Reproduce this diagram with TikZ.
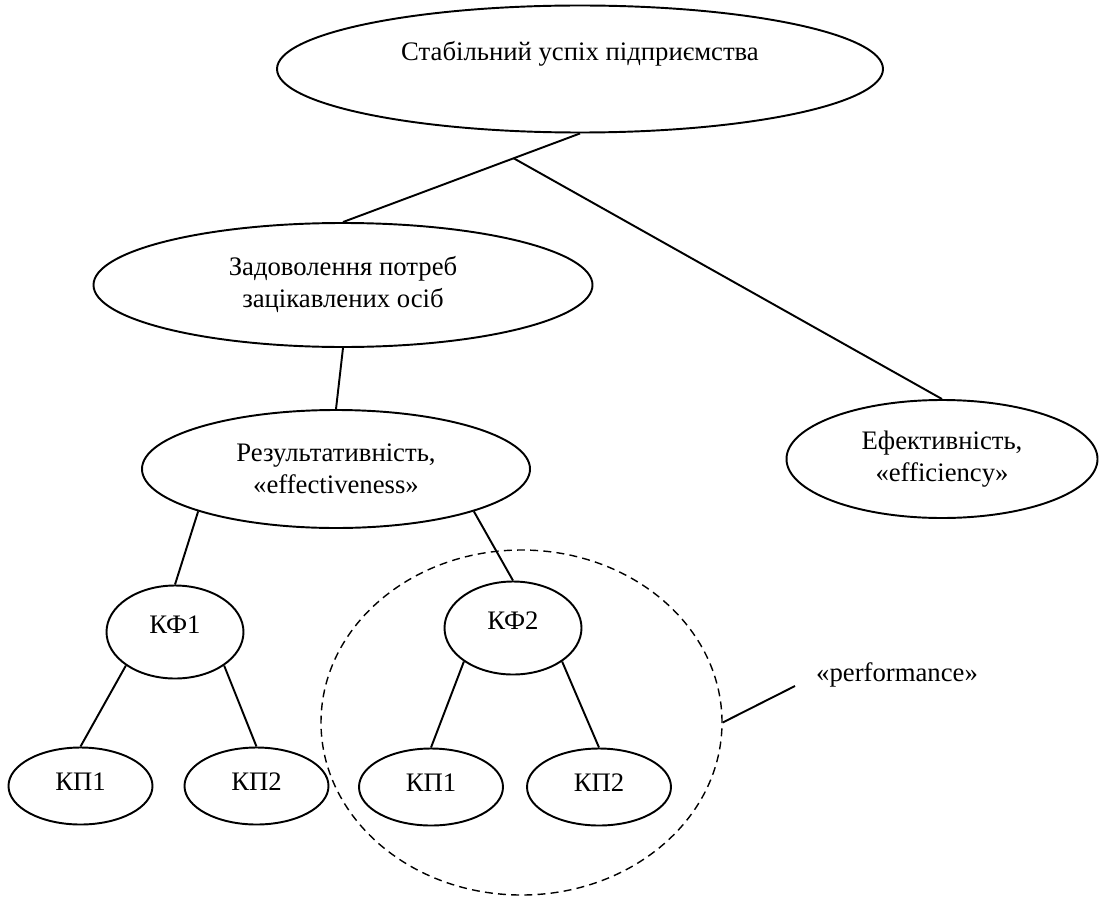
\documentclass[tikz,border=0pt]{standalone}
\usepackage{fontspec}
\setmainfont{Liberation Serif}
\usetikzlibrary{shapes.geometric}

\begin{document}
\begin{tikzpicture}[
                        line width=1.1pt,
                        every node/.style={font=\fontsize{15.2}{18.2}\selectfont},
                        bub/.style={ellipse, draw, align=center, inner sep=0pt},
                        kfbub/.style={bub, minimum width=2.74cm, minimum height=1.86cm, text depth=0.3cm},
                        kpbub/.style={bub, minimum width=2.88cm, minimum height=1.54cm, text depth=0.16cm}
                    ]
                    \useasboundingbox (0,0) rectangle (21.98,-17.96);
                    % Blocks
                    \node [bub, minimum width=12.12cm, minimum height=2.54cm, text height=0.38cm, text depth=0.70cm] (top) at (11.6,-1.38) {Стабільний успіх підприємства};
                    \node [bub, minimum width=9.98cm, minimum height=2.48cm] (need) at (6.86,-5.7) {Задоволення потреб\\зацікавлених осіб};
                    \node [bub, minimum width=7.76cm, minimum height=2.36cm] (res) at (6.72,-9.38) {Результативність,\\«effectiveness»};
                    \node [bub, minimum width=6.22cm, minimum height=2.36cm] (eff) at (18.84,-9.18) {Ефективність,\\«efficiency»};
                    \node [kfbub] (kf1) at (3.5,-12.64) {КФ1};
                    \node [kfbub] (kf2) at (10.26,-12.56) {КФ2};
                    \node [kpbub] (kp11) at (1.61,-15.72) {КП1};
                    \node [kpbub] (kp12) at (5.13,-15.72) {КП2};
                    \node [kpbub] (kp21) at (8.62,-15.74) {КП1};
                    \node [kpbub] (kp22) at (11.98,-15.74) {КП2};
                    \node [ellipse, draw, line width=0.8pt, dash pattern=on 4.5pt off 3pt, minimum width=8.02cm, minimum height=6.9cm] (perf) at (10.43,-14.45) {};
                    \node (perftext) at (17.94,-13.5) {«performance»};
                    \coordinate (perftip) at (15.9,-13.72);

                    % Connections
                    \draw (top.south) -- coordinate[pos=0.28] (fork) (need.north);
                    \draw (fork) -- (eff.north);
                    \draw (need.south) -- (res.north);
                    \draw (res.south west) -- (kf1.north);
                    \draw (res.south east) -- (kf2.north);
                    \draw (kf1.south west) -- (kp11.north);
                    \draw (kf1.south east) -- (kp12.north);
                    \draw (kf2.south west) -- (kp21.north);
                    \draw (kf2.south east) -- (kp22.north);
                    \draw (perf.east) -- (perftip);
                \end{tikzpicture}
\end{document}
